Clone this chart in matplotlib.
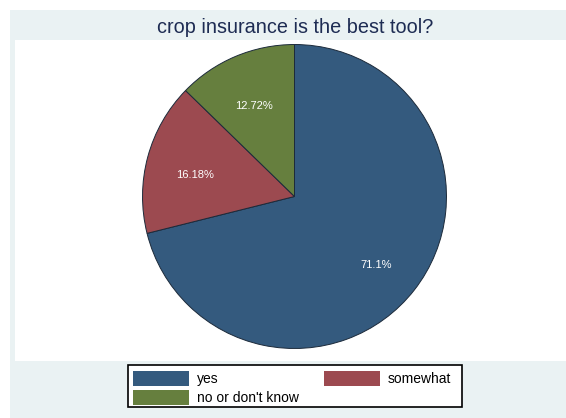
import matplotlib.pyplot as plt
from matplotlib.patches import Rectangle

plt.rcParams['font.family'] = ['Liberation Sans', 'DejaVu Sans']

title = "crop insurance is the best tool?"
labels = ["yes", "somewhat", "no or don't know"]
shares = [71.1, 16.18, 12.72]
pct_text = ["71.1%", "16.18%", "12.72%"]
colors = ['#345a7e', '#9c4a50', '#667f3e']

W, H = 566, 418
fig = plt.figure(figsize=(W / 100, H / 100), dpi=100)
fig.patch.set_facecolor('white')

# background / decorations in pixel coordinates
bg = fig.add_axes([0, 0, 1, 1])
bg.set_xlim(0, W)
bg.set_ylim(H, 0)
bg.axis('off')
bg.add_patch(Rectangle((10, 10), W - 10, H - 10, facecolor='#eaf2f3', edgecolor='none'))
bg.add_patch(Rectangle((15, 40), W - 15, 321, facecolor='white', edgecolor='none'))
bg.text(295, 33, title, ha='center', va='baseline', fontsize=14.3, color='#1e2c53')

# legend
bg.add_patch(Rectangle((128, 365), 334, 42, facecolor='white', edgecolor='black', lw=1.2))
slots = [(133, 371), (324, 371), (133, 390)]
for (x, y), lab, c in zip(slots, labels, colors):
    bg.add_patch(Rectangle((x, y), 56, 15, facecolor=c, edgecolor='none'))
    bg.text(x + 64, y + 8, lab, ha='left', va='center', fontsize=10, color='black')

# pie
ax = fig.add_axes([141 / W, 1 - 350 / H, 307 / W, 307 / H])
wedges, texts = ax.pie(shares, colors=colors, startangle=90, counterclock=False,
                       labels=pct_text, labeldistance=0.68,
                       wedgeprops=dict(edgecolor='#1c2a3a', linewidth=0.7),
                       textprops=dict(color='white', fontsize=8, ha='center', va='top'))
ax.set_xlim(-1.01, 1.01)
ax.set_ylim(-1.01, 1.01)
ax.set_aspect('equal')
ax.axis('off')

fig.savefig('out.png', dpi=100)
